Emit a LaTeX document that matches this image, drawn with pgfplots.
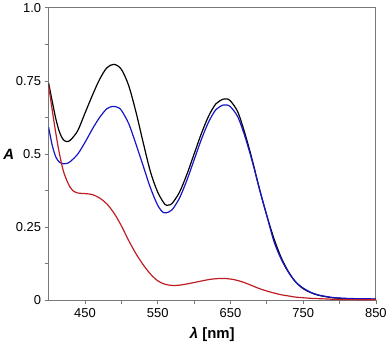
\documentclass[border=0pt]{standalone}
\usepackage{pgfplots}
\pgfplotsset{compat=1.18}
\usepackage{fontspec}
\setmainfont{Liberation Sans}
\definecolor{cblue}{RGB}{20,20,200}
\definecolor{cred}{RGB}{190,30,35}
\definecolor{cgray}{RGB}{120,120,120}
\begin{document}
\begin{tikzpicture}
\begin{axis}[
  scale only axis,
  width=329pt, height=294pt,
  xmin=400, xmax=850, ymin=0, ymax=1,
  axis line style={cgray, line width=1pt},
  tick style={cgray, line width=0.8pt},
  tick align=outside,
  major tick length=4pt, minor tick length=4pt,
  xtick pos=bottom, ytick pos=left,
  xtick={450,550,650,750,850},
  minor xtick={500,600,700,800},
  ytick={0,0.25,0.5,0.75,1},
  yticklabels={0,0.25,0.5,0.75,1.0},
  minor ytick={0.125,0.375,0.625,0.875},
  /pgf/number format/assume math mode=true,
  tick label style={font=\fontsize{13}{15}\selectfont},
  xticklabel style={yshift=-1pt},
  yticklabel style={xshift=0pt},
  xlabel={\textbf{\textit{λ} [nm]}},
  ylabel={\textbf{\textit{A}}},
  label style={font=\fontsize{15}{17}\selectfont},
  xlabel style={yshift=-2pt},
  ylabel style={rotate=-90, xshift=5pt},
  every axis plot/.append style={line width=1.2pt, smooth, no markers},
]
\addplot[black] coordinates {
(400,0.743)(405,0.68)(410,0.62)(415,0.575)(420,0.55)(425,0.543)(430,0.548)
(440,0.58)(450,0.64)(460,0.70)(470,0.755)(480,0.795)(490,0.807)(500,0.79)
(510,0.735)(520,0.645)(530,0.54)(540,0.44)(550,0.37)(560,0.328)(565,0.326)
(570,0.332)(580,0.37)(590,0.43)(600,0.50)(610,0.57)(620,0.63)(630,0.672)
(640,0.688)(645,0.689)(650,0.682)(660,0.645)(670,0.57)(680,0.48)(690,0.38)
(700,0.29)(710,0.21)(720,0.145)(730,0.097)(740,0.062)(750,0.04)(760,0.027)
(770,0.018)(780,0.013)(790,0.009)(800,0.007)(820,0.005)(850,0.004)
};
\addplot[cblue] coordinates {
(400,0.592)(405,0.53)(410,0.49)(415,0.472)(420,0.467)(425,0.468)(430,0.475)
(440,0.50)(450,0.54)(460,0.585)(470,0.625)(480,0.655)(488,0.663)(495,0.66)
(500,0.65)(510,0.605)(520,0.535)(530,0.46)(540,0.385)(550,0.325)(558,0.30)
(565,0.302)(570,0.31)(580,0.35)(590,0.41)(600,0.48)(610,0.55)(620,0.61)
(630,0.652)(640,0.668)(645,0.668)(650,0.662)(660,0.628)(670,0.56)(680,0.475)
(690,0.38)(700,0.29)(710,0.20)(720,0.14)(730,0.095)(740,0.062)(750,0.042)
(760,0.028)(770,0.019)(780,0.014)(790,0.01)(800,0.008)(820,0.006)(850,0.005)
};
\addplot[cred] coordinates {
(400,0.735)(405,0.65)(410,0.57)(415,0.50)(420,0.445)(425,0.41)(430,0.385)
(435,0.372)(440,0.367)(450,0.365)(460,0.362)(470,0.35)(480,0.33)(490,0.298)
(500,0.255)(510,0.205)(520,0.16)(530,0.122)(540,0.09)(550,0.067)(560,0.055)
(570,0.051)(580,0.052)(590,0.056)(600,0.061)(610,0.066)(620,0.071)(630,0.074)
(640,0.075)(650,0.073)(660,0.068)(670,0.06)(680,0.05)(690,0.04)(700,0.032)
(710,0.025)(720,0.019)(730,0.015)(740,0.011)(750,0.009)(760,0.007)(780,0.005)
(800,0.003)(850,0.002)
};
\end{axis}
\end{tikzpicture}
\end{document}
